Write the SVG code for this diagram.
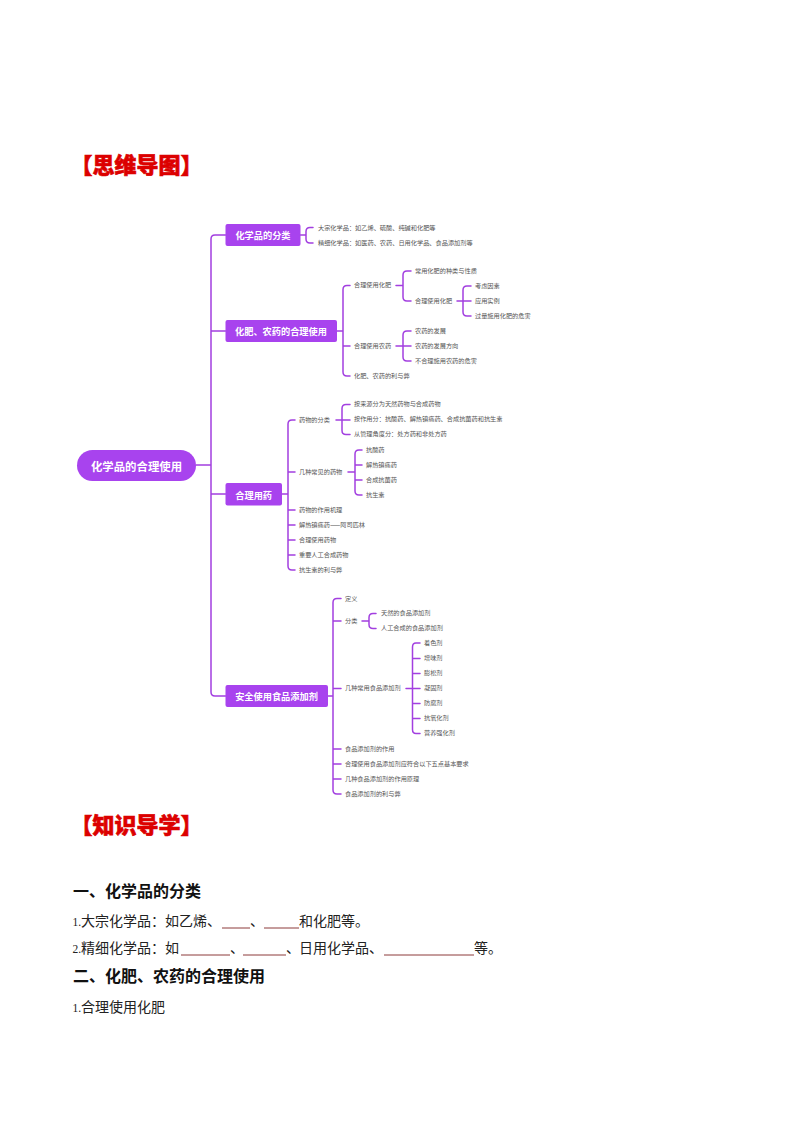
<svg xmlns="http://www.w3.org/2000/svg" width="794" height="1123" viewBox="0 0 794 1123">
<style>
text{font-family:"Noto Sans CJK SC","Liberation Sans",sans-serif}
.c{fill:none;stroke:#a23fe0;stroke-width:1.5;stroke-linecap:round;stroke-linejoin:round}
.n{fill:#a843ee}
.t{fill:#fff;font-weight:700;text-anchor:middle;dominant-baseline:central}
.b{font-size:9.2px}
.l{font-size:6.2px;fill:#555;dominant-baseline:central;transform:translateY(-.8px)}
.h{font-size:22px;font-weight:900;fill:#dc0000;stroke:#dc0000;stroke-width:.6}
.s{font-size:16px;font-weight:700;fill:#111}
.p{font-size:14px;fill:#222}
.d{font-family:"Liberation Serif",serif;font-size:11.500px}
.u{stroke:#8c3a3a;stroke-width:1;fill:none}
</style>
<rect width="794" height="1123" fill="#fff"/>
<text class="h" x="70.500" y="172.500">【思维导图】</text>
<text class="h" x="70.500" y="832.500">【知识导学】</text>

<g id="connectors" class="c">
<path d="M196 465H211M225.500 235H215Q211 235 211 239V692Q211 696 215 696H225.500M211 331H225.500M211 494H225.500"/>
<path d="M300.500 235H306M313 227.500H310Q306 227.500 306 231.500V239Q306 243 310 243H313"/>
<path d="M337 331H343M350 285.500H347Q343 285.500 343 289.500V372Q343 376 347 376H350M343 346H350"/>
<path d="M396 285.500H403M411 271H407Q403 271 403 275V297Q403 301 407 301H411"/>
<path d="M457 301H463M471 286H467Q463 286 463 290V312Q463 316 467 316H471M463 301H471"/>
<path d="M396 346H411M411 331H407Q403 331 403 335V357Q403 361 407 361H411"/>
<path d="M282 494H288M295 420H292Q288 420 288 424V566Q288 570 292 570H295M288 472H295M288 510H295M288 525H295M288 540H295M288 555H295"/>
<path d="M336 420H350M350 404.500H346Q342 404.500 342 408.500V430.500Q342 434.500 346 434.500H350"/>
<path d="M348 472H355M362 450H359Q355 450 355 454V491Q355 495 359 495H362M355 465H362M355 480H362"/>
<path d="M328 696H333M341 598.500H337Q333 598.500 333 602.500V790Q333 794 337 794H341M333 621H341M333 688.500H341M333 749H341M333 764H341M333 779H341"/>
<path d="M362 621H369M376 613.500H373Q369 613.500 369 617.500V624.500Q369 628.500 373 628.500H376"/>
<path d="M406 688.500H420M420 643H416Q412.500 643 412.500 647V729.500Q412.500 733.500 416 733.500H420M412.500 658.500H420M412.500 673.500H420M412.500 703.500H420M412.500 718.500H420"/>
</g>

<g id="root"><rect class="n" x="77" y="450" width="119" height="31" rx="15.500"/><text class="t" x="136.500" y="465.500" font-size="11.400">化学品的合理使用</text></g>

<g id="n1"><rect class="n" x="225.500" y="224" width="75" height="22" rx="2"/><text class="t b" x="263" y="235">化学品的分类</text></g>
<g id="n1-1"><text class="l" x="318" y="228">大宗化学品：如乙烯、硫酸、纯碱和化肥等</text></g>
<g id="n1-2"><text class="l" x="318" y="243">精细化学品：如医药、农药、日用化学品、食品添加剂等</text></g>

<g id="n2"><rect class="n" x="225.500" y="320" width="111.500" height="22" rx="2"/><text class="t b" x="281" y="331">化肥、农药的合理使用</text></g>
<g id="n2-1"><text class="l" x="354" y="285.500">合理使用化肥</text></g>
<g id="n2-1-1"><text class="l" x="415" y="271">常用化肥的种类与性质</text></g>
<g id="n2-1-2"><text class="l" x="415" y="301">合理使用化肥</text></g>
<g id="n2-1-2-1"><text class="l" x="475" y="286">考虑因素</text></g>
<g id="n2-1-2-2"><text class="l" x="475" y="301">应用实例</text></g>
<g id="n2-1-2-3"><text class="l" x="475" y="316">过量施用化肥的危害</text></g>
<g id="n2-2"><text class="l" x="354" y="346">合理使用农药</text></g>
<g id="n2-2-1"><text class="l" x="415" y="331">农药的发展</text></g>
<g id="n2-2-2"><text class="l" x="415" y="346">农药的发展方向</text></g>
<g id="n2-2-3"><text class="l" x="415" y="361">不合理施用农药的危害</text></g>
<g id="n2-3"><text class="l" x="354" y="376">化肥、农药的利与弊</text></g>

<g id="n3"><rect class="n" x="225.500" y="483" width="56.500" height="22.500" rx="2"/><text class="t b" x="253.700" y="494.500">合理用药</text></g>
<g id="n3-1"><text class="l" x="299" y="420">药物的分类</text></g>
<g id="n3-1-1"><text class="l" x="354" y="404.500">按来源分为天然药物与合成药物</text></g>
<g id="n3-1-2"><text class="l" x="354" y="419.500">按作用分：抗酸药、解热镇痛药、合成抗菌药和抗生素</text></g>
<g id="n3-1-3"><text class="l" x="354" y="434.500">从管理角度分：处方药和非处方药</text></g>
<g id="n3-2"><text class="l" x="299" y="472">几种常见的药物</text></g>
<g id="n3-2-1"><text class="l" x="366" y="450">抗酸药</text></g>
<g id="n3-2-2"><text class="l" x="366" y="465">解热镇痛药</text></g>
<g id="n3-2-3"><text class="l" x="366" y="480">合成抗菌药</text></g>
<g id="n3-2-4"><text class="l" x="366" y="495">抗生素</text></g>
<g id="n3-3"><text class="l" x="299" y="510">药物的作用机理</text></g>
<g id="n3-4"><text class="l" x="299" y="525">解热镇痛药——阿司匹林</text></g>
<g id="n3-5"><text class="l" x="299" y="540">合理使用药物</text></g>
<g id="n3-6"><text class="l" x="299" y="555">重要人工合成药物</text></g>
<g id="n3-7"><text class="l" x="299" y="570">抗生素的利与弊</text></g>

<g id="n4"><rect class="n" x="225.500" y="685" width="102.500" height="22" rx="2"/><text class="t b" x="276.500" y="696">安全使用食品添加剂</text></g>
<g id="n4-1"><text class="l" x="345" y="599">定义</text></g>
<g id="n4-2"><text class="l" x="345" y="621">分类</text></g>
<g id="n4-2-1"><text class="l" x="381" y="613.500">天然的食品添加剂</text></g>
<g id="n4-2-2"><text class="l" x="381" y="628.500">人工合成的食品添加剂</text></g>
<g id="n4-3"><text class="l" x="345" y="688.500">几种常用食品添加剂</text></g>
<g id="n4-3-1"><text class="l" x="424" y="643">着色剂</text></g>
<g id="n4-3-2"><text class="l" x="424" y="658.500">增味剂</text></g>
<g id="n4-3-3"><text class="l" x="424" y="673.500">膨松剂</text></g>
<g id="n4-3-4"><text class="l" x="424" y="688.500">凝固剂</text></g>
<g id="n4-3-5"><text class="l" x="424" y="703.500">防腐剂</text></g>
<g id="n4-3-6"><text class="l" x="424" y="718.500">抗氧化剂</text></g>
<g id="n4-3-7"><text class="l" x="424" y="733.500">营养强化剂</text></g>
<g id="n4-4"><text class="l" x="345" y="749">食品添加剂的作用</text></g>
<g id="n4-5"><text class="l" x="345" y="764">合理使用食品添加剂应符合以下五点基本要求</text></g>
<g id="n4-6"><text class="l" x="345" y="779">几种食品添加剂的作用原理</text></g>
<g id="n4-7"><text class="l" x="345" y="794">食品添加剂的利与弊</text></g>

<text class="s" x="73" y="897">一、化学品的分类</text>
<text class="p" x="72.500" y="926"><tspan class="d">1.</tspan><tspan x="81">大宗化学品：如乙烯、</tspan><tspan x="250">、</tspan><tspan x="299">和化肥等。</tspan></text>
<text class="p" x="72.500" y="953"><tspan class="d">2.</tspan><tspan x="81">精细化学品：如</tspan><tspan x="230">、</tspan><tspan x="286">、</tspan><tspan x="299">日用化学品、</tspan><tspan x="474">等。</tspan></text>
<path class="u" d="M222 928H250M264 928H299M181 955H230M243 955H286M384 955H474"/>
<text class="s" x="73" y="982">二、化肥、农药的合理使用</text>
<text class="p" x="72.500" y="1012"><tspan class="d">1.</tspan><tspan x="81">合理使用化肥</tspan></text>
</svg>
